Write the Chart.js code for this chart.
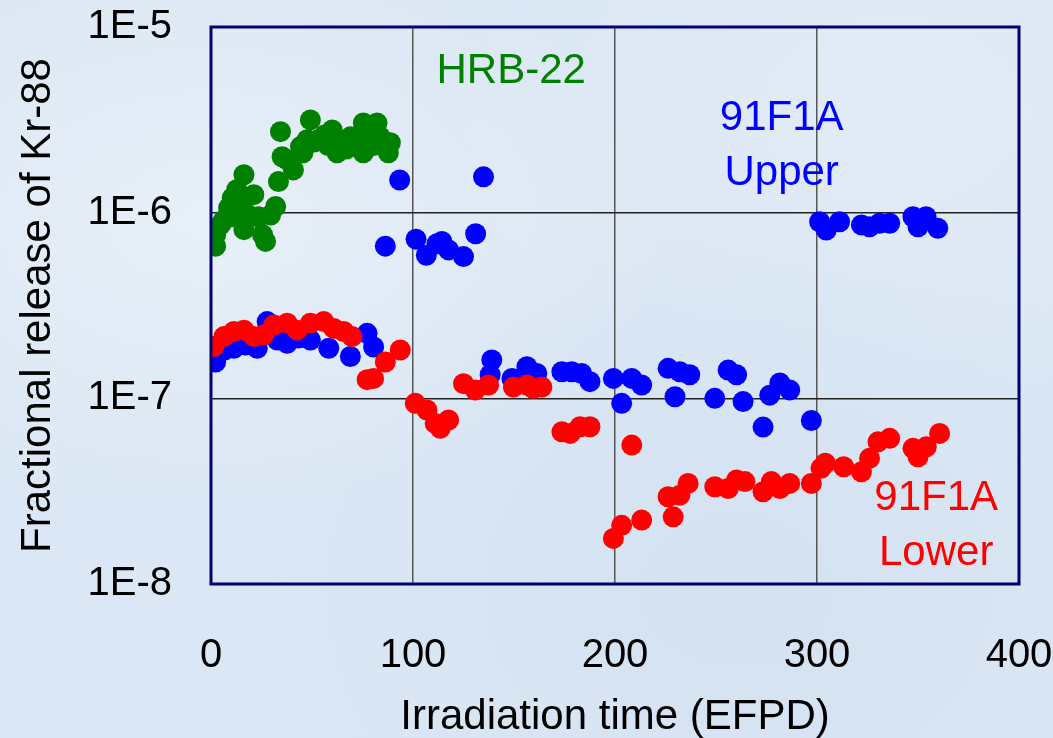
<!DOCTYPE html>
<html>
<head>
<meta charset="utf-8">
<script src="https://cdn.jsdelivr.net/npm/chart.js@4.4.1/dist/chart.umd.min.js"></script>
<style>
  html, body { margin: 0; padding: 0; }
  body {
    width: 1053px; height: 738px; overflow: hidden;
    background: #dbe7f4;
    background-image:
      radial-gradient(ellipse at 20% 30%, rgba(255,255,255,0.35), rgba(255,255,255,0) 40%),
      radial-gradient(ellipse at 70% 80%, rgba(200,215,235,0.35), rgba(200,215,235,0) 45%),
      radial-gradient(ellipse at 85% 15%, rgba(235,242,250,0.4), rgba(235,242,250,0) 35%);
  }
  #wrap { position: absolute; left: 0; top: 0; width: 1053px; height: 738px; }
</style>
</head>
<body>
<div id="wrap"><canvas id="c" width="1053" height="738"></canvas></div>
<script>
// ---- Data ----
const xTickValues = [0, 100, 200, 300, 400];
const yTickValues = [1e-8, 1e-7, 1e-6, 1e-5];

const hrbDays = [2.3, 2.3, 4.7, 6.2, 8.7, 9.8, 10.5, 12.7, 15.5, 16.3, 16.3, 18.6, 21.2, 23.5, 25.5, 27.0, 29.5, 32.0, 33.4, 34.4, 35.2, 37.9, 40.8, 44.3, 45.5, 47.6, 49.2, 51.0, 53.2, 56.2, 58.0, 60.0, 62.4, 65.5, 67.0, 69.0, 70.5, 72.0, 75.4, 75.4, 78.9, 80.5, 82.2, 83.8, 86.0, 87.8, 88.8];
const hrbRelease = [6.6e-7, 7.6e-7, 8.6e-7, 9.1e-7, 1.06e-6, 9.5e-7, 1.2e-6, 1.33e-6, 1.08e-6, 1.6e-6, 8.1e-7, 9.7e-7, 1.25e-6, 9.5e-7, 7.6e-7, 7.0e-7, 9.7e-7, 1.08e-6, 1.47e-6, 2.73e-6, 2.0e-6, 1.92e-6, 1.7e-6, 2.27e-6, 2.1e-6, 2.47e-6, 3.16e-6, 2.4e-6, 2.47e-6, 2.62e-6, 2.3e-6, 2.79e-6, 2.1e-6, 2.32e-6, 2.2e-6, 2.56e-6, 2.3e-6, 2.47e-6, 3.04e-6, 2.1e-6, 2.47e-6, 2.3e-6, 3.04e-6, 2.56e-6, 2.4e-6, 2.1e-6, 2.38e-6];

const upperDays = [2.3, 6.7, 11.3, 17.1, 22.9, 27.8, 32.8, 37.7, 43.3, 49.2, 58.3, 69.0, 77.3, 80.5,
  86.3, 93.4, 101.5, 106.6, 111.9, 114.3, 117.6, 125.0, 131.0, 134.9,
  139.0, 138.2, 149.0, 156.4, 161.3, 173.7, 178.6, 183.5, 187.6, 199.2, 203.3, 208.3, 213.2, 226.3, 229.7, 232.1, 237.0, 249.4, 256.0, 260.2, 263.4, 273.3, 276.6, 281.6, 286.5, 297.2,
  301.3, 304.6, 311.2, 322.0, 326.0, 331.0, 336.0, 347.5, 350.0, 354.0, 359.8];
const upperRelease = [1.57e-7, 1.82e-7, 1.86e-7, 1.94e-7, 1.86e-7, 2.59e-7, 2.06e-7, 1.98e-7, 2.11e-7, 2.06e-7, 1.86e-7, 1.68e-7, 2.24e-7, 1.89e-7,
  6.6e-7, 1.5e-6, 7.2e-7, 5.9e-7, 6.8e-7, 7.0e-7, 6.3e-7, 5.8e-7, 7.7e-7, 1.56e-6,
  1.61e-7, 1.34e-7, 1.28e-7, 1.48e-7, 1.36e-7, 1.39e-7, 1.39e-7, 1.36e-7, 1.23e-7, 1.28e-7, 9.4e-8, 1.28e-7, 1.18e-7, 1.45e-7, 1.02e-7, 1.39e-7, 1.34e-7, 1.0e-7, 1.42e-7, 1.34e-7, 9.6e-8, 7.0e-8, 1.04e-7, 1.21e-7, 1.11e-7, 7.6e-8,
  8.94e-7, 8.07e-7, 8.94e-7, 8.59e-7, 8.4e-7, 8.77e-7, 8.77e-7, 9.51e-7, 8.4e-7, 9.51e-7, 8.24e-7];

const lowerDays = [1.4, 6.4, 11.3, 16.3, 21.2, 26.1, 31.1, 37.7, 42.7, 49.2, 55.8, 60.8, 65.7, 69.8, 77.3, 80.5, 86.3, 93.7,
  101.1, 106.9, 111.0, 113.5, 117.6, 125.0, 130.8, 137.4, 149.7, 156.4, 159.6, 163.8, 173.7, 177.8, 182.7, 187.6,
  199.2, 203.3, 208.3, 213.2, 226.3, 228.8, 232.1, 236.2, 249.4, 256.0, 260.2, 264.3, 273.3, 277.4, 281.6, 286.5, 297.2,
  302.0, 304.1, 313.2, 322.0, 326.0, 330.2, 336.0, 347.5, 350.0, 354.1, 360.7];
const lowerRelease = [1.9e-7, 2.15e-7, 2.29e-7, 2.33e-7, 2.15e-7, 2.2e-7, 2.48e-7, 2.54e-7, 2.33e-7, 2.54e-7, 2.59e-7, 2.38e-7, 2.29e-7, 2.15e-7, 1.26e-7, 1.28e-7, 1.57e-7, 1.82e-7,
  9.4e-8, 8.65e-8, 7.33e-8, 6.89e-8, 7.64e-8, 1.2e-7, 1.11e-7, 1.18e-7, 1.15e-7, 1.18e-7, 1.13e-7, 1.15e-7, 6.6e-8, 6.47e-8, 7.03e-8, 7.03e-8,
  1.76e-8, 2.07e-8, 5.6e-8, 2.21e-8, 2.95e-8, 2.3e-8, 3.01e-8, 3.48e-8, 3.34e-8, 3.27e-8, 3.63e-8, 3.56e-8, 3.14e-8, 3.56e-8, 3.27e-8, 3.48e-8, 3.48e-8,
  4.2e-8, 4.47e-8, 4.28e-8, 4.02e-8, 4.75e-8, 5.83e-8, 6.09e-8, 5.38e-8, 4.84e-8, 5.48e-8, 6.47e-8];

const seriesLabels = ['91F1A Lower', '91F1A Upper', 'HRB-22'];

// ---- Build chart ----
const toPoints = (xs, ys) => xs.map((x, i) => ({ x: x, y: ys[i] }));
const FONT = "'Liberation Sans', Arial, sans-serif";

const annotations = [
  { lines: ['HRB-22'], color: '#008000', x: 148.6, y: 5.73e-6 },
  { lines: ['91F1A', 'Upper'], color: '#0000ff', x: 282.5, y: 3.2e-6 },
  { lines: ['91F1A', 'Lower'], color: '#ff0000', x: 359, y: 2.9e-8 }
];

const framePlugin = {
  id: 'frame',
  afterDatasetsDraw(chart) {
    const { ctx, chartArea: a, scales } = chart;
    ctx.save();
    ctx.strokeStyle = '#000070';
    ctx.lineWidth = 3;
    ctx.strokeRect(a.left, a.top, a.right - a.left, a.bottom - a.top);
    ctx.font = '42px ' + FONT;
    ctx.textAlign = 'center';
    ctx.textBaseline = 'middle';
    annotations.forEach(an => {
      const px = scales.x.getPixelForValue(an.x);
      const py = scales.y.getPixelForValue(an.y);
      ctx.fillStyle = an.color;
      an.lines.forEach((t, i) => ctx.fillText(t, px, py + i * 55));
    });
    ctx.restore();
  }
};

new Chart(document.getElementById('c'), {
  type: 'scatter',
  data: {
    datasets: [
      { label: seriesLabels[0], data: toPoints(lowerDays, lowerRelease), backgroundColor: '#ff0000' },
      { label: seriesLabels[1], data: toPoints(upperDays, upperRelease), backgroundColor: '#0000ff' },
      { label: seriesLabels[2], data: toPoints(hrbDays, hrbRelease), backgroundColor: '#008000' }
    ]
  },
  options: {
    responsive: false,
    animation: false,
    layout: { padding: { left: 0, right: 34, top: 27, bottom: 0 } },
    elements: { point: { radius: 10.5, borderWidth: 0, hoverRadius: 10.5 } },
    plugins: { legend: { display: false }, tooltip: { enabled: false } },
    scales: {
      x: {
        type: 'linear', min: 0, max: 400,
        afterBuildTicks: s => { s.ticks = xTickValues.map(v => ({ value: v })); },
        afterFit: s => { s.height = 154; s.paddingLeft = 0; s.paddingRight = 0; s.paddingTop = 0; s.paddingBottom = 0; },
        ticks: { color: '#000', font: { family: FONT, size: 40 }, padding: 48, maxRotation: 0 },
        grid: {
          drawTicks: false,
          color: c => (c.tick && (c.tick.value === 0 || c.tick.value === 400)) ? 'rgba(0,0,0,0)' : '#555',
          lineWidth: 1.5
        },
        border: { display: false },
        title: { display: true, text: 'Irradiation time (EFPD)', color: '#000', font: { family: FONT, size: 42, lineHeight: 1.0 }, padding: 0 }
      },
      y: {
        type: 'logarithmic', min: 1e-8, max: 1e-5,
        afterBuildTicks: s => { s.ticks = yTickValues.map(v => ({ value: v })); },
        afterFit: s => { s.width = 211; s.paddingLeft = 0; s.paddingRight = 0; s.paddingTop = 0; s.paddingBottom = 0; },
        ticks: {
          color: '#000', font: { family: FONT, size: 40 }, padding: 39,
          callback: v => '1E' + Math.round(Math.log10(v))
        },
        grid: {
          drawTicks: false,
          color: c => (c.tick && (c.tick.value === 1e-8 || c.tick.value === 1e-5)) ? 'rgba(0,0,0,0)' : '#222',
          lineWidth: 1.5
        },
        border: { display: false },
        title: { display: true, text: 'Fractional release of Kr-88', color: '#000', font: { family: FONT, size: 42, lineHeight: 1.05 }, padding: { top: 16, bottom: 0 } }
      }
    }
  },
  plugins: [framePlugin]
});
</script>
</body>
</html>
